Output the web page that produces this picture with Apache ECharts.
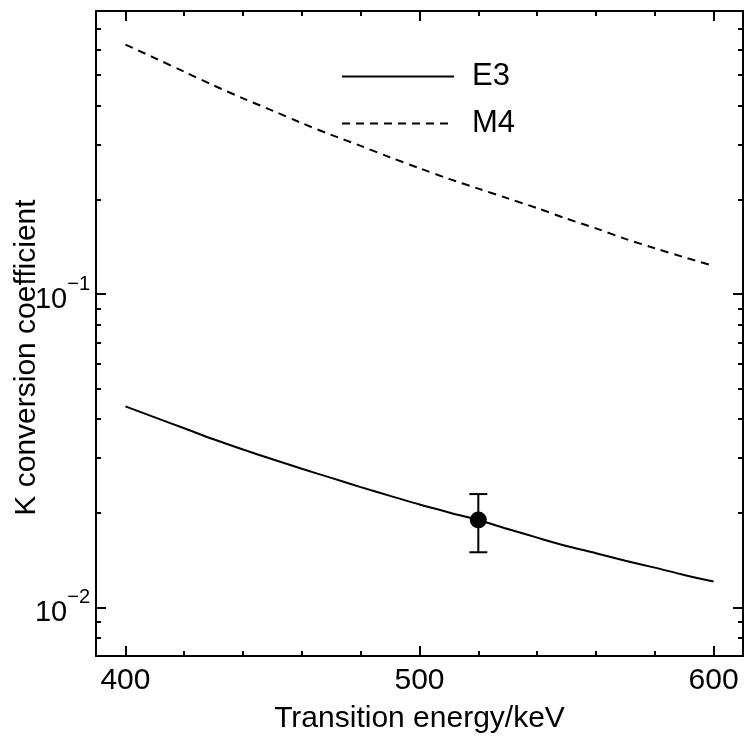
<!DOCTYPE html>
<html>
<head>
<meta charset="utf-8">
<script src="https://cdn.jsdelivr.net/npm/echarts@6/dist/echarts.min.js"></script>
<style>html,body{margin:0;padding:0;background:#fff;}#c{width:746px;height:737px;}</style>
</head>
<body>
<div id="c"></div>
<script>
// ---- data ----
const energies = [400,410,420,430,440,450,460,470,480,490,500,510,520,530,540,550,560,570,580,590,600];
const e3Values = [0.0438,0.0404,0.0373,0.0344,0.0319,0.0297,0.0277,0.0259,0.0242,0.0227,0.0213,0.0201,0.0190,0.0178,0.0167,0.0157,0.0149,0.0141,0.0134,0.0127,0.0121];
const m4Values = [0.625,0.566,0.512,0.463,0.421,0.385,0.351,0.322,0.297,0.273,0.252,0.233,0.217,0.202,0.188,0.174,0.162,0.150,0.140,0.131,0.123];
const measuredPoint = [520, 0.019];
const measuredError = [0.015, 0.023];
const xMajorTicks = [400,500,600];
const xMinorTicks = [420,440,460,480,520,540,560,580];
const yMajorTicks = [0.01,0.1];
const yMinorTicks = [0.008,0.009,0.02,0.03,0.04,0.05,0.06,0.07,0.08,0.09,0.2,0.3,0.4,0.5,0.6,0.7];
const seriesNames = ['E3','M4'];

const FONT = 'Liberation Sans, Arial, sans-serif';
const black = '#000';

function xAx(pos, ticks, len, labels){
  return {
    type:'value', min:390, max:610, position:pos,
    axisLine:{show:labels!==null, lineStyle:{color:black,width:2}},
    axisTick:{show:true, inside:true, length:len, customValues:ticks, lineStyle:{color:black,width:2}},
    axisLabel: labels ? {show:true, customValues:labels, fontSize:30, color:black, fontFamily:FONT, margin:10} : {show:false},
    splitLine:{show:false}
  };
}
function yAx(pos, ticks, len, labels){
  return {
    type:'log', logBase:10, min:0.007, max:0.8, position:pos,
    axisLine:{show:labels!==null, lineStyle:{color:black,width:2}},
    axisTick:{show:true, inside:true, length:len, customValues:ticks, lineStyle:{color:black,width:2}},
    axisLabel: labels ? {show:true, customValues:labels, color:black, fontFamily:FONT, margin:6,
      formatter:function(v){ const e=Math.round(Math.log10(v)); return '{b|10}{s|\u2212'+Math.abs(e)+'}'; },
      rich:{ b:{fontSize:29, fontFamily:FONT, color:black, lineHeight:40, verticalAlign:'bottom'},
             s:{fontSize:20, fontFamily:FONT, color:black, lineHeight:40, verticalAlign:'top'} } } : {show:false},
    splitLine:{show:false}
  };
}

const xAxes = [xAx('bottom', xMajorTicks, 10, xMajorTicks), xAx('bottom', xMinorTicks, 5, null),
               xAx('top', xMajorTicks, 10, false), xAx('top', xMinorTicks, 5, null)];
xAxes[0].name = 'Transition energy/keV';
xAxes[0].nameLocation = 'middle';
xAxes[0].nameGap = 48;
xAxes[0].nameMoveOverlap = false;
xAxes[0].nameTextStyle = {fontSize:30, color:black, fontFamily:FONT};
xAxes[2].axisLabel = {show:false};

const yAxes = [yAx('left', yMajorTicks, 10, yMajorTicks), yAx('left', yMinorTicks, 5, null),
               yAx('right', yMajorTicks, 10, false), yAx('right', yMinorTicks, 5, null)];
yAxes[0].name = 'K conversion coefficient';
yAxes[0].nameLocation = 'middle';
yAxes[0].nameGap = 54;
yAxes[0].nameMoveOverlap = false;
yAxes[0].nameTextStyle = {fontSize:30, color:black, fontFamily:FONT, padding:[0,48,0,0]};
yAxes[2].axisLabel = {show:false};

const chart = echarts.init(document.getElementById('c'));
chart.setOption({
  animation:false,
  backgroundColor:'#fff',
  grid:{left:96, right:3, top:11, bottom:81, containLabel:false, outerBoundsMode:'none'},
  xAxis:xAxes,
  yAxis:yAxes,
  legend:{
    data:seriesNames, orient:'vertical', left:336, top:56,
    itemWidth:112, itemHeight:30, itemGap:16,
    itemStyle:{opacity:0},
    textStyle:{fontSize:31, color:black, fontFamily:FONT, padding:[0,0,0,13]}
  },
  series:[
    {name:seriesNames[0], type:'line', xAxisIndex:0, yAxisIndex:0, showSymbol:false, symbol:'none', smooth:0.3,
     data:energies.map((e,i)=>[e,e3Values[i]]), lineStyle:{color:black,width:2,type:'solid'}, itemStyle:{color:black}},
    {name:seriesNames[1], type:'line', xAxisIndex:0, yAxisIndex:0, showSymbol:false, symbol:'none', smooth:0.3,
     data:energies.map((e,i)=>[e,m4Values[i]]), lineStyle:{color:black,width:2,type:[8,6]}, itemStyle:{color:black}},
    {type:'custom', xAxisIndex:0, yAxisIndex:0, silent:true,
     data:[[measuredPoint[0], measuredError[0], measuredError[1]]],
     renderItem:function(params, api){
       const lo = api.coord([api.value(0), api.value(1)]);
       const hi = api.coord([api.value(0), api.value(2)]);
       const hw = 9;
       const st = {stroke:black, lineWidth:2};
       return {type:'group', children:[
         {type:'line', shape:{x1:lo[0],y1:lo[1],x2:hi[0],y2:hi[1]}, style:st},
         {type:'line', shape:{x1:lo[0]-hw,y1:lo[1],x2:lo[0]+hw,y2:lo[1]}, style:st},
         {type:'line', shape:{x1:hi[0]-hw,y1:hi[1],x2:hi[0]+hw,y2:hi[1]}, style:st}
       ]};
     }},
    {type:'scatter', xAxisIndex:0, yAxisIndex:0, symbol:'circle', symbolSize:17,
     data:[measuredPoint], itemStyle:{color:black, opacity:1}, z:5}
  ]
});
</script>
</body>
</html>
